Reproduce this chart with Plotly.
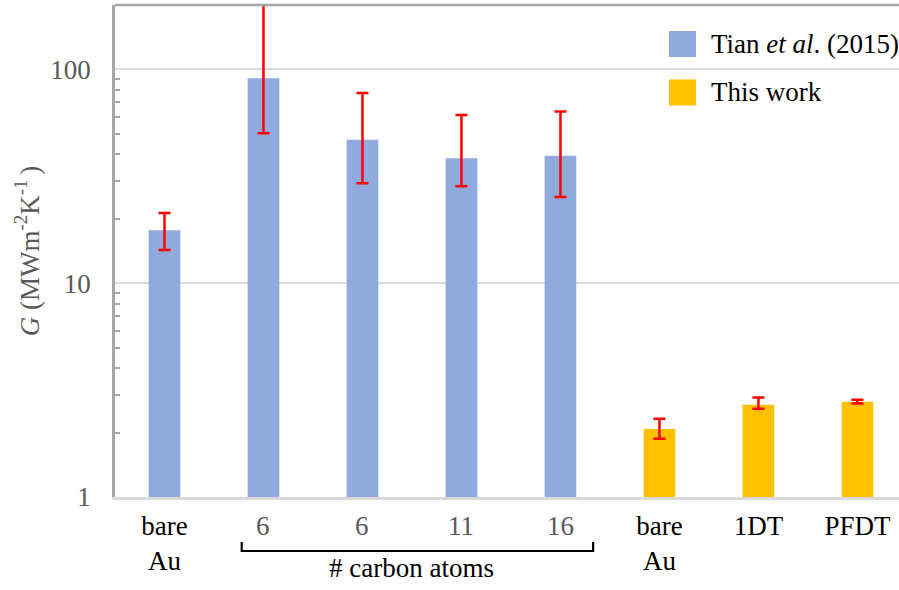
import plotly.graph_objects as go

# Thermal boundary conductance G (MW m^-2 K^-1)
tian_labels = ["bare<br>Au", "6", "6", "11", "16"]
tian_G = [17.7, 90.8, 46.8, 38.4, 39.4]
tian_hi = [21.3, 260.0, 77.5, 61.1, 63.6]
tian_lo = [14.3, 50.3, 29.3, 28.4, 25.3]

work_labels = ["bare<br>Au", "1DT", "PFDT"]
work_G = [2.08, 2.70, 2.79]
work_hi = [2.32, 2.92, 2.85]
work_lo = [1.875, 2.59, 2.74]

legend_names = ["Tian <i>et al</i>. (2015)", "This work"]
y_ticks = [1, 10, 100]
y_minor = [2, 3, 4, 5, 6, 7, 8, 9, 20, 30, 40, 50, 60, 70, 80, 90, 200]

BLUE = "#8FAADC"
GOLD = "#FFC000"
RED = "#FF0000"
GREY = "#595959"
FONT = "Liberation Serif"

x_tian = list(range(len(tian_G)))
x_work = [len(tian_G) + i for i in range(len(work_G))]
x_all = x_tian + x_work
all_labels = tian_labels + work_labels


def errs(vals, hi, lo):
    return [h - v for v, h in zip(vals, hi)], [v - l for v, l in zip(vals, lo)]


tp, tm = errs(tian_G, tian_hi, tian_lo)
wp, wm = errs(work_G, work_hi, work_lo)

fig = go.Figure()
fig.add_trace(go.Bar(
    x=x_tian, y=tian_G, name=legend_names[0], width=0.32,
    marker=dict(color=BLUE, line=dict(width=0)),
    error_y=dict(type="data", symmetric=False, array=tp, arrayminus=tm,
                 color=RED, thickness=2.5, width=6),
))
fig.add_trace(go.Bar(
    x=x_work, y=work_G, name=legend_names[1], width=0.32,
    marker=dict(color=GOLD, line=dict(width=0)),
    error_y=dict(type="data", symmetric=False, array=wp, arrayminus=wm,
                 color=RED, thickness=2.5, width=6),
))

# sample names go on the axis; chain lengths are written in grey below
name_x = [xv for xv, lab in zip(x_all, all_labels) if not lab.isdigit()]
name_text = [lab for lab in all_labels if not lab.isdigit()]
for xv, lab in zip(x_all, all_labels):
    if lab.isdigit():
        fig.add_annotation(x=xv, y=-0.0589, xref="x", yref="paper", text=lab,
                           showarrow=False, yanchor="middle",
                           font=dict(family=FONT, size=27, color=GREY))

fig.update_layout(
    width=899, height=590,
    margin=dict(l=115, r=0, t=5, b=93),
    plot_bgcolor="white", paper_bgcolor="white",
    barmode="overlay", showlegend=False,
    font=dict(family=FONT, size=27, color="black"),
    xaxis=dict(
        range=[-0.5, 7.42], tickmode="array", tickvals=name_x, ticktext=name_text,
        showgrid=False, showline=True, linecolor="#D9D9D9", linewidth=2.5,
        ticks="", ticklabelstandoff=3,
        tickfont=dict(family=FONT, size=27, color="black"),
        zeroline=False,
    ),
    yaxis=dict(
        type="log", range=[0, 2.30103], tickvals=y_ticks,
        ticktext=[str(v) for v in y_ticks],
        tickfont=dict(family=FONT, size=27, color=GREY),
        showgrid=True, gridcolor="#D9D9D9", gridwidth=2,
        showline=True, linecolor="#A6A6A6", linewidth=2.5,
        ticks="", ticklabelstandoff=16,
        minor=dict(tickvals=y_minor, ticks="inside", ticklen=5,
                   tickcolor="#A6A6A6", tickwidth=1.5, showgrid=False),
        zeroline=False,
    ),
)

# top frame line
fig.add_shape(type="line", xref="paper", yref="paper", x0=0, x1=1, y0=1, y1=1,
              line=dict(color="#A6A6A6", width=2.5))

# bracket grouping the alkanethiol chain lengths
b0 = x_tian[1] - 0.22
b1 = x_tian[-1] + 0.33
fig.add_shape(type="path", xref="x", yref="paper",
              path=f"M {b0},-0.0915 L {b0},-0.1098 L {b1},-0.1098 L {b1},-0.0915",
              line=dict(color="black", width=2.2))
fig.add_annotation(x=(x_tian[1] + x_tian[-1]) / 2, y=-0.145, xref="x", yref="paper",
                   text="# carbon atoms", showarrow=False, yanchor="middle",
                   font=dict(family=FONT, size=27, color="black"))

# y-axis title
fig.add_annotation(x=-0.112, y=0.5, xref="paper", yref="paper", textangle=-90,
                   xanchor="center", yanchor="middle",
                   text="<i>G</i> (MWm<sup>-2</sup>K<sup>-1 </sup>)", showarrow=False,
                   font=dict(family=FONT, size=27, color=GREY))

# legend
for i, (name, col) in enumerate(zip(legend_names, [BLUE, GOLD])):
    yc = 0.9207 - i * 0.0985
    fig.add_shape(type="rect", xref="paper", yref="paper",
                  x0=0.7066, x1=0.7411, y0=yc - 0.0265, y1=yc + 0.0265,
                  fillcolor=col, line=dict(width=0))
    fig.add_annotation(x=0.7577, y=yc, xref="paper", yref="paper", text=name,
                       showarrow=False, xanchor="left", yanchor="middle",
                       font=dict(family=FONT, size=27, color="black"))

fig.write_html("out.html")
